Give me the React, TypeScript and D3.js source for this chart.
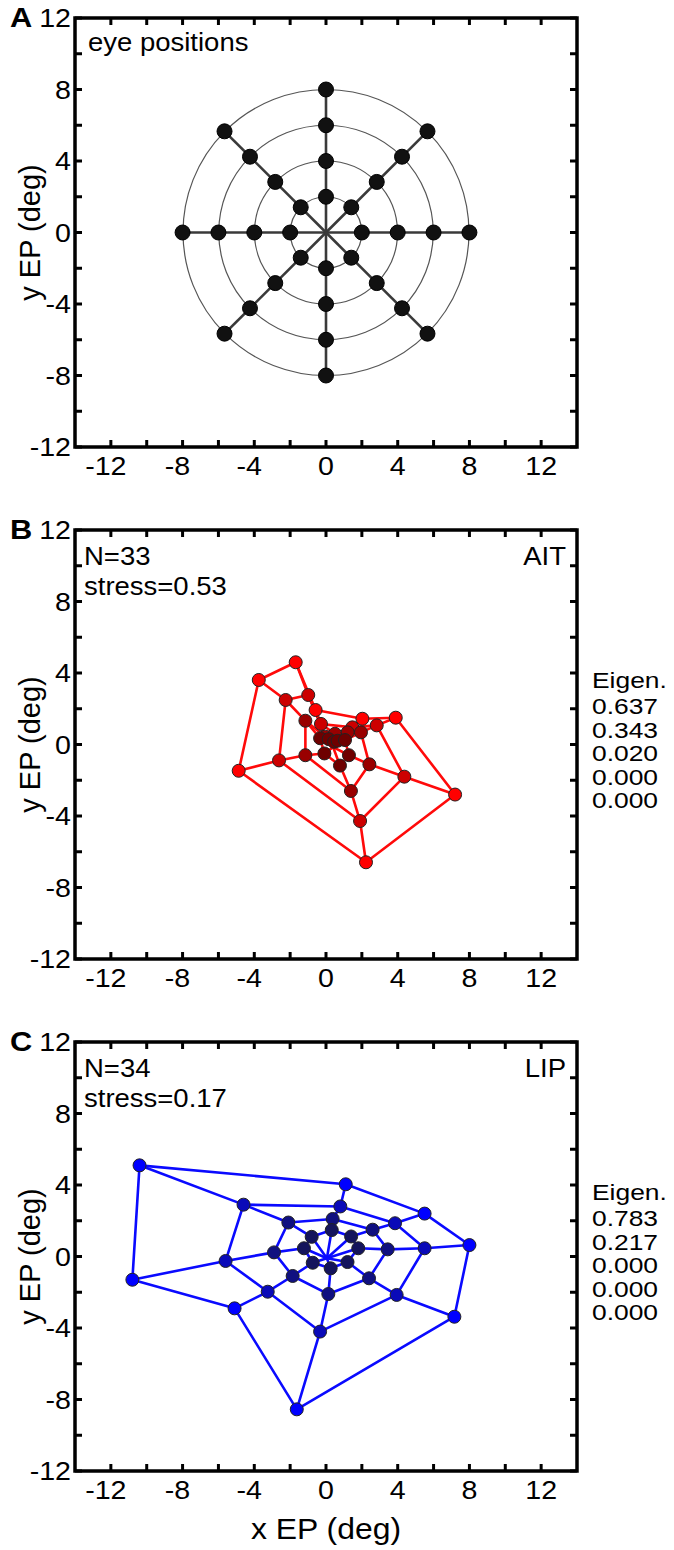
import React from "react";
import * as d3 from "d3";

// ---- data ----
const xTickLabels = [-12, -8, -4, 0, 4, 8, 12];
const yTickLabels = [-12, -8, -4, 0, 4, 8, 12];
const minorTicks = [-12, -10, -8, -6, -4, -2, 0, 2, 4, 6, 8, 10, 12];

// eye positions (deg), rings from inner (2) to outer (8), 8 directions each
const eyeRadii = [2, 4, 6, 8];
const eyeRing2 = [[2, 0], [1.41, 1.41], [0, 2], [-1.41, 1.41], [-2, 0], [-1.41, -1.41], [0, -2], [1.41, -1.41]];
const eyeRing4 = [[4, 0], [2.83, 2.83], [0, 4], [-2.83, 2.83], [-4, 0], [-2.83, -2.83], [0, -4], [2.83, -2.83]];
const eyeRing6 = [[6, 0], [4.24, 4.24], [0, 6], [-4.24, 4.24], [-6, 0], [-4.24, -4.24], [0, -6], [4.24, -4.24]];
const eyeRing8 = [[8, 0], [5.66, 5.66], [0, 8], [-5.66, 5.66], [-8, 0], [-5.66, -5.66], [0, -8], [5.66, -5.66]];

// AIT reconstruction
const aitRing2 = [[-0.09, -0.5], [-0.33, 0.35], [0.15, 0.3], [0.45, 0.15], [0.65, 0.21], [1.06, 0.25], [1.28, -0.6], [0.78, -1.18]];
const aitRing4 = [[-1.15, -0.6], [-1.15, 1.33], [-0.04, 0.44], [0.5, 0.6], [1.21, 0.68], [1.95, 0.68], [2.42, -1.11], [1.39, -2.6]];
const aitRing6 = [[-2.62, -0.89], [-2.25, 2.49], [-0.99, 2.77], [-0.28, 1.15], [1.47, 0.96], [2.83, 1.07], [4.37, -1.8], [1.9, -4.28]];
const aitRing8 = [[-4.87, -1.47], [-3.75, 3.61], [-1.69, 4.6], [-0.58, 1.93], [2.03, 1.44], [3.89, 1.5], [7.2, -2.8], [2.23, -6.59]];
const aitCenter = [0.4, -0.15];
const aitEigen = ["0.637", "0.343", "0.020", "0.000", "0.000"];

// LIP reconstruction
const lipRing2 = [[1.8, 0.46], [1.4, 1.12], [0.32, 1.48], [-0.8, 1.1], [-1.23, 0.46], [-0.74, -0.35], [0.26, -0.66], [1.2, -0.31]];
const lipRing4 = [[3.44, 0.4], [2.6, 1.5], [0.37, 2.1], [-2.1, 1.9], [-2.9, 0.23], [-1.86, -1.09], [0.13, -2.1], [2.4, -1.22]];
const lipRing6 = [[5.5, 0.46], [3.85, 1.86], [0.8, 2.8], [-4.6, 2.9], [-5.6, -0.25], [-3.25, -1.97], [-0.33, -4.2], [3.94, -2.15]];
const lipRing8 = [[8.0, 0.64], [5.5, 2.4], [1.1, 4.04], [-10.4, 5.1], [-10.8, -1.3], [-5.1, -2.9], [-1.63, -8.55], [7.16, -3.37]];
const lipCenter = [0.05, -0.1];
const lipEigen = ["0.783", "0.217", "0.000", "0.000", "0.000"];

const FONT = "'Liberation Sans', Arial, sans-serif";
const W = 674;
const H = 1550;
const LEFT = 75;
const RIGHT = 577;
const PH = 429;
const panelTops = [18, 530, 1042];

const T = ({ x, y, size = 26, anchor = "start", weight = "normal", sx = 1.1, children }: any) => (
  <text
    transform={`translate(${x},${y}) scale(${sx},1)`}
    fontFamily={FONT}
    fontSize={size}
    fontWeight={weight}
    textAnchor={anchor}
    fill="#000"
  >
    {children}
  </text>
);

const Axes = ({ top, x, y, showXLabels }: any) => {
  const bottom = top + PH;
  const tl = 7;
  return (
    <g>
      {minorTicks.map((t) => (
        <g key={"t" + t} stroke="#000" strokeWidth={3}>
          <line x1={x(t)} x2={x(t)} y1={bottom} y2={bottom - tl} />
          <line x1={x(t)} x2={x(t)} y1={top} y2={top + tl} />
          <line x1={LEFT} x2={LEFT + tl} y1={y(t)} y2={y(t)} />
          <line x1={RIGHT} x2={RIGHT - tl} y1={y(t)} y2={y(t)} />
        </g>
      ))}
      <rect x={LEFT} y={top} width={RIGHT - LEFT} height={PH} fill="none" stroke="#000" strokeWidth={3.5} />
      {yTickLabels.map((t) => (
        <T key={"yl" + t} x={71} y={y(t) + 9} anchor="end">
          {t}
        </T>
      ))}
      {showXLabels &&
        xTickLabels.map((t) => (
          <T key={"xl" + t} x={x(t) - (t < 0 ? 5 : 0)} y={bottom + 28} anchor="middle">
            {t}
          </T>
        ))}
      <text
        transform={`translate(40,${top + PH / 2}) rotate(-90)`}
        fontFamily={FONT}
        fontSize={29}
        textAnchor="middle"
      >
        y EP (deg)
      </text>
    </g>
  );
};

const Web = ({ rings, center, x, y, lineColor, dotColors, r }: any) => {
  const line = d3.line<number[]>().x((d) => x(d[0])).y((d) => y(d[1]));
  const ringPath = d3
    .line<number[]>()
    .x((d) => x(d[0]))
    .y((d) => y(d[1]))
    .curve(d3.curveLinearClosed);
  const spokes = d3.range(8).map((k) => [center, ...rings.map((ring: number[][]) => ring[k])]);
  return (
    <g>
      <g fill="none" stroke={lineColor} strokeWidth={2.6} strokeLinejoin="round">
        {rings.map((ring: number[][], i: number) => (
          <path key={"r" + i} d={ringPath(ring) || ""} />
        ))}
        {spokes.map((s, i) => (
          <path key={"s" + i} d={line(s) || ""} />
        ))}
      </g>
      {[...rings].reverse().map((ring: number[][], i: number) => (
        <g key={"d" + i} fill={dotColors[rings.length - 1 - i]} stroke="#222" strokeWidth={1}>
          {ring.map((p, j) => (
            <circle key={j} cx={x(p[0])} cy={y(p[1])} r={r} />
          ))}
        </g>
      ))}
    </g>
  );
};

const Eigen = ({ top, values }: any) => (
  <g>
    <T x={592} y={top + 158} size={22} sx={1.2}>Eigen.</T>
    {values.map((v: string, i: number) => (
      <T key={i} x={592} y={top + 184 + i * 23.5} size={22} sx={1.2}>{v}</T>
    ))}
  </g>
);

const App = () => {
  const x = d3.scaleLinear().domain([-14, 14]).range([LEFT, RIGHT]);
  const ys = panelTops.map((top) => d3.scaleLinear().domain([-12, 12]).range([top + PH, top]));

  const eyeRings = [eyeRing2, eyeRing4, eyeRing6, eyeRing8];
  const aitRings = [aitRing2, aitRing4, aitRing6, aitRing8];
  const lipRings = [lipRing2, lipRing4, lipRing6, lipRing8];

  const yA = ys[0];
  const unit = yA(0) - yA(1);

  return (
    <svg width={W} height={H} style={{ position: "absolute", left: 0, top: 0, background: "#fff" }}>
      <rect width={W} height={H} fill="#fff" />

      {/* Panel A */}
      <g>
        {eyeRadii.map((rad) => (
          <circle key={rad} cx={x(0)} cy={yA(0)} r={rad * unit} fill="none" stroke="#555" strokeWidth={1.2} />
        ))}
        <g stroke="#3a3a3a" strokeWidth={2.6}>
          {eyeRing8.map((p, i) => (
            <line key={i} x1={x(0)} y1={yA(0)} x2={x(p[0])} y2={yA(p[1])} />
          ))}
        </g>
        <g fill="#111" stroke="#000" strokeWidth={1}>
          {eyeRings.flat().map((p, i) => (
            <circle key={i} cx={x(p[0])} cy={yA(p[1])} r={7.5} />
          ))}
        </g>
        <Axes top={panelTops[0]} x={x} y={yA} showXLabels />
        <T x={88} y={panelTops[0] + 33} size={25}>eye positions</T>
        <T x={10} y={panelTops[0] + 9} size={28} weight="bold">A</T>
      </g>

      {/* Panel B */}
      <g>
        <Web
          rings={aitRings}
          center={aitCenter}
          x={x}
          y={ys[1]}
          lineColor="#ff0a0a"
          dotColors={["#6e0000", "#990000", "#cc0000", "#ff0000"]}
          r={6.5}
        />
        <Axes top={panelTops[1]} x={x} y={ys[1]} showXLabels />
        <T x={84} y={panelTops[1] + 35} size={25}>N=33</T>
        <T x={84} y={panelTops[1] + 65} size={25}>stress=0.53</T>
        <T x={566} y={panelTops[1] + 35} size={25} anchor="end">AIT</T>
        <Eigen top={panelTops[1]} values={aitEigen} />
        <T x={10} y={panelTops[1] + 9} size={28} weight="bold">B</T>
      </g>

      {/* Panel C */}
      <g>
        <Web
          rings={lipRings}
          center={lipCenter}
          x={x}
          y={ys[2]}
          lineColor="#0a0aff"
          dotColors={["#14145c", "#101080", "#0a0ab8", "#0000ff"]}
          r={6.5}
        />
        <Axes top={panelTops[2]} x={x} y={ys[2]} showXLabels />
        <T x={84} y={panelTops[2] + 35} size={25}>N=34</T>
        <T x={84} y={panelTops[2] + 65} size={25}>stress=0.17</T>
        <T x={566} y={panelTops[2] + 35} size={25} anchor="end">LIP</T>
        <Eigen top={panelTops[2]} values={lipEigen} />
        <T x={10} y={panelTops[2] + 9} size={28} weight="bold">C</T>
        <T x={x(0)} y={panelTops[2] + PH + 68} size={29} anchor="middle">x EP (deg)</T>
      </g>
    </svg>
  );
};

export default App;
